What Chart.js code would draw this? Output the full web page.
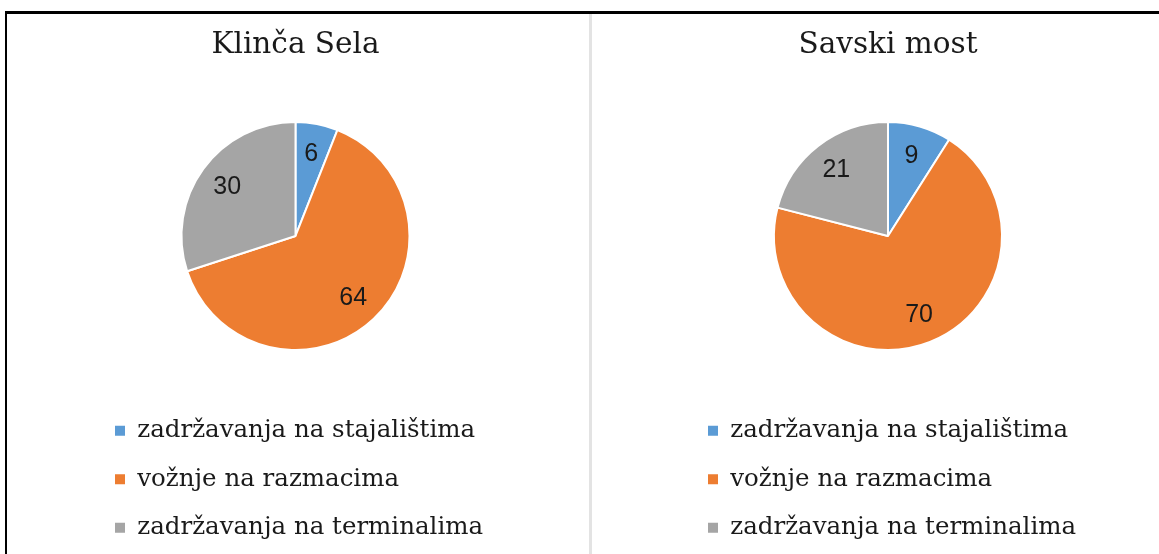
<!DOCTYPE html>
<html>
<head>
<meta charset="utf-8">
<script src="https://cdn.jsdelivr.net/npm/chart.js@4.4.1/dist/chart.umd.min.js"></script>
<style>
  html, body { margin: 0; padding: 0; background: #ffffff; }
  body { width: 1159px; height: 554px; position: relative; overflow: hidden; }
  canvas { position: absolute; top: 0; }
  #c1 { left: 0; }
  #c2 { left: 590px; }
  .line { position: absolute; }
  #top { left: 5px; top: 11px; width: 1154px; height: 3px; background: #000; }
  #leftb { left: 5px; top: 11px; width: 2px; height: 543px; background: #000; }
  #div { left: 589px; top: 14px; width: 3px; height: 540px; background: #e3e3e3; }
</style>
</head>
<body>
<canvas id="c1" width="590" height="554"></canvas>
<canvas id="c2" width="569" height="554"></canvas>
<div class="line" id="top"></div>
<div class="line" id="leftb"></div>
<div class="line" id="div"></div>
<script>
const categories = ['zadržavanja na stajalištima', 'vožnje na razmacima', 'zadržavanja na terminalima'];
const titles = ['Klinča Sela', 'Savski most'];
const klincaSelaValues = [6, 64, 30];
const savskiMostValues = [9, 70, 21];
const colors = ['#5B9BD5', '#ED7D31', '#A5A5A5'];

const labelPlugin = {
  id: 'sliceLabels',
  afterDatasetsDraw(chart) {
    const ctx = chart.ctx;
    const meta = chart.getDatasetMeta(0);
    const data = chart.data.datasets[0].data;
    ctx.save();
    ctx.font = '25px "Liberation Sans", Arial, sans-serif';
    ctx.fillStyle = '#1a1a1a';
    ctx.textAlign = 'center';
    ctx.textBaseline = 'middle';
    meta.data.forEach((arc, i) => {
      const p = arc.getProps(['x', 'y', 'startAngle', 'endAngle', 'outerRadius'], true);
      const mid = (p.startAngle + p.endAngle) / 2;
      const r = p.outerRadius * 0.74;
      ctx.fillText(String(data[i]), p.x + Math.cos(mid) * r, p.y + Math.sin(mid) * r + 1);
    });
    ctx.restore();
  }
};

function makeChart(id, title, values, pad) {
  return new Chart(document.getElementById(id), {
    type: 'pie',
    data: {
      labels: categories,
      datasets: [{
        data: values,
        backgroundColor: colors,
        borderColor: '#ffffff',
        borderWidth: 2,
        hoverOffset: 0,
        radius: 114
      }]
    },
    options: {
      responsive: false,
      animation: false,
      devicePixelRatio: 1,
      layout: { padding: { left: pad.left, right: pad.right, top: 0, bottom: 4 } },
      plugins: {
        tooltip: { enabled: false },
        title: {
          display: true,
          text: title,
          color: '#1a1a1a',
          font: { family: '"DejaVu Serif", serif', size: 29.5, weight: 'normal', lineHeight: 1.2 },
          padding: { top: 28, bottom: 14 }
        },
        legend: {
          display: true,
          position: 'bottom',
          align: 'start',
          labels: {
            boxWidth: 10,
            boxHeight: 10,
            padding: 24,
            color: '#1a1a1a',
            font: { family: '"DejaVu Serif", serif', size: 24.5 },
            generateLabels(chart) {
              const items = Chart.overrides.pie.plugins.legend.labels.generateLabels(chart);
              return items.map(it => Object.assign(it, { lineWidth: 0, strokeStyle: 'rgba(0,0,0,0)' }));
            }
          }
        }
      }
    },
    plugins: [labelPlugin]
  });
}

makeChart('c1', titles[0], klincaSelaValues, { left: 91, right: 90 });
makeChart('c2', titles[1], savskiMostValues, { left: 94, right: 67 });
</script>
</body>
</html>
